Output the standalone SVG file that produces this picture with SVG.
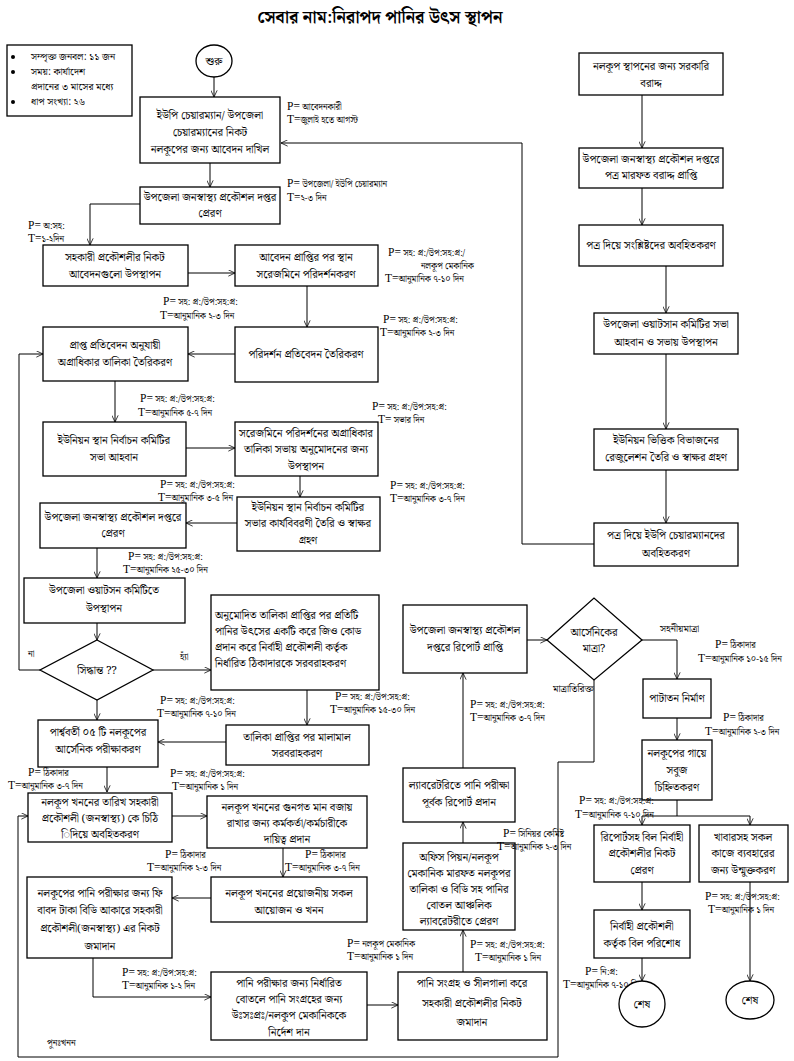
<svg xmlns="http://www.w3.org/2000/svg" width="794" height="1061" viewBox="0 0 794 1061">
<defs>
<marker id="ah" viewBox="0 0 10 10" refX="9.5" refY="5" markerWidth="7" markerHeight="7" orient="auto" markerUnits="userSpaceOnUse"><path d="M0,0.5 L9.5,5 L0,9.5" fill="none" stroke="#000" stroke-width="1.1"/></marker>
<style>
.bx{fill:#fff;stroke:#000;stroke-width:1.3}
.t{font-family:"Noto Serif Bengali","Noto Sans Bengali","Lohit Bengali",serif;font-size:11px;text-anchor:middle;fill:#000}
.ts{font-family:"Noto Serif Bengali","Noto Sans Bengali","Lohit Bengali",serif;font-size:11px;fill:#000}
.lb{font-family:"Noto Serif Bengali","Noto Sans Bengali","Lohit Bengali",serif;font-size:8.8px;fill:#000}
.pt{font-family:"Liberation Serif",serif;font-size:11.5px}
.ln{fill:none;stroke:#000;stroke-width:1}
.ar{fill:none;stroke:#000;stroke-width:1;marker-end:url(#ah)}
.ti{font-family:"Noto Serif Bengali","Noto Sans Bengali","Lohit Bengali",serif;font-size:17px;font-weight:bold;text-anchor:middle}
</style>
</defs>
<rect width="794" height="1061" fill="#fff"/>
<text class="ti" x="380" y="23">সেবার নাম:নিরাপদ পানির উৎস স্থাপন</text>

<g id="info">
<rect class="bx" x="7" y="45" width="125" height="71"/>
<circle cx="13" cy="57" r="2"/><circle cx="13" cy="72" r="2"/><circle cx="13" cy="102" r="2"/>
<text class="ts" x="31" y="60" style="font-size:10px">সম্পৃক্ত জনবল: ১১ জন</text>
<text class="ts" x="31" y="75" style="font-size:10px">সময়: কার্যাদেশ</text>
<text class="ts" x="31" y="90" style="font-size:10px">প্রদানের ৩ মাসের মধ্যে</text>
<text class="ts" x="31" y="105" style="font-size:10px">ধাপ সংখ্যা: ২৬</text>
</g>

<g id="connectors">
<path class="ar" d="M214,77 V97"/>
<path class="ar" d="M210,163 V187"/>
<path class="ar" d="M140,204 H90 V245"/>
<path class="ar" d="M188,273 H235"/>
<path class="ar" d="M307,286 V327"/>
<path class="ar" d="M235,354 H188"/>
<path class="ar" d="M115,381 V422"/>
<path class="ar" d="M186,448 H235"/>
<path class="ar" d="M300,476 V497"/>
<path class="ar" d="M237,523 H186"/>
<path class="ar" d="M97,548 V578"/>
<path class="ar" d="M97,623 V640"/>
<path class="ar" d="M40,670 H19 V354 H43"/>
<path class="ar" d="M153,670 H211"/>
<path class="ar" d="M307,690 V725"/>
<path class="ar" d="M226,742 H158"/>
<path class="ar" d="M97,700 V720"/>
<path class="ar" d="M107,767 V792"/>
<path class="ar" d="M172,816 H207"/>
<path class="ar" d="M283,848 V877"/>
<path class="ar" d="M211,898 H172"/>
<path class="ar" d="M93,958 V997 H211"/>
<path class="ar" d="M367,1005 H398"/>
<path class="ar" d="M463,972 V930"/>
<path class="ar" d="M463,843 V822"/>
<path class="ar" d="M463,768 V673"/>
<path class="ar" d="M527,640 H547"/>
<path class="ar" d="M642,640 H677 V679"/>
<path class="ar" d="M594,680 V762 H558 V1057 H18 V816 H28"/>
<path class="ar" d="M677,718 V740"/>
<path class="ln" d="M677,800 V816 M642,816 H750"/>
<path class="ar" d="M642,816 V825"/>
<path class="ar" d="M750,816 V825"/>
<path class="ar" d="M642,882 V910"/>
<path class="ar" d="M642,958 V981"/>
<path class="ar" d="M750,882 V981"/>
<path class="ar" d="M642,95 V148"/>
<path class="ar" d="M642,188 V225"/>
<path class="ar" d="M666,266 V313"/>
<path class="ar" d="M666,354 V429"/>
<path class="ar" d="M666,470 V523"/>
<path class="ar" d="M594,544 H522 V143 H281"/>
</g>

<g id="start"><ellipse class="bx" cx="214" cy="61" rx="18" ry="16"/><text class="t" x="214" y="65">শুরু</text></g>

<g id="n1"><rect class="bx" x="140" y="97" width="140" height="66"/>
<text class="t" x="210" y="119">ইউপি চেয়ারম্যান/ উপজেলা</text>
<text class="t" x="210" y="136">চেয়ারম্যানের নিকট</text>
<text class="t" x="210" y="153">নলকূপের জন্য আবেদন দাখিল</text>
<text class="lb" x="287" y="110"><tspan class="pt">P=</tspan> আবেদনকারী</text>
<text class="lb" x="287" y="123"><tspan class="pt">T=</tspan>জুলাই হতে আগস্ট</text></g>

<g id="n2"><rect class="bx" x="140" y="187" width="140" height="37"/>
<text class="t" x="210" y="201">উপজেলা জনস্বাস্থ্য প্রকৌশল দপ্তর</text>
<text class="t" x="210" y="217">প্রেরণ</text>
<text class="lb" x="287" y="187"><tspan class="pt">P=</tspan> উপজেলা/ ইউপি চেয়ারম্যান</text>
<text class="lb" x="287" y="201"><tspan class="pt">T=</tspan>২-৩ দিন</text></g>

<g id="n3"><rect class="bx" x="43" y="245" width="145" height="41"/>
<text class="t" x="115" y="261">সহকারী প্রকৌশলীর নিকট</text>
<text class="t" x="115" y="278">আবেদনগুলো উপস্থাপন</text>
<text class="lb" x="28" y="229"><tspan class="pt">P=</tspan> অ:সহ:</text>
<text class="lb" x="28" y="242"><tspan class="pt">T=</tspan>১-২দিন</text></g>

<g id="n4"><rect class="bx" x="235" y="245" width="143" height="41"/>
<text class="t" x="306" y="261">আবেদন প্রাপ্তির পর স্থান</text>
<text class="t" x="306" y="278">সরেজমিনে পরিদর্শনকরণ</text>
<text class="lb" x="388" y="256"><tspan class="pt">P=</tspan> সহ: প্র:/উপ:সহ:প্র:/</text>
<text class="lb" x="421" y="269">নলকূপ মেকানিক</text>
<text class="lb" x="385" y="282"><tspan class="pt">T=</tspan>আনুমানিক ৭-১০ দিন</text></g>

<g id="n5"><rect class="bx" x="235" y="327" width="143" height="55"/>
<text class="t" x="306" y="358">পরিদর্শন প্রতিবেদন তৈরিকরণ</text>
<text class="lb" x="383" y="323"><tspan class="pt">P=</tspan> সহ: প্র:/উপ:সহ:প্র:</text>
<text class="lb" x="380" y="336"><tspan class="pt">T=</tspan>আনুমানিক ২-৩ দিন</text></g>

<g id="n6"><rect class="bx" x="43" y="327" width="145" height="54"/>
<text class="t" x="115" y="349">প্রাপ্ত প্রতিবেদন অনুযায়ী</text>
<text class="t" x="115" y="366">অগ্রাধিকার তালিকা তৈরিকরণ</text>
<text class="lb" x="163" y="305"><tspan class="pt">P=</tspan> সহ: প্র:/উপ:সহ:প্র:</text>
<text class="lb" x="160" y="319"><tspan class="pt">T=</tspan>আনুমানিক ২-৩ দিন</text></g>

<g id="n7"><rect class="bx" x="43" y="422" width="143" height="54"/>
<text class="t" x="114" y="444">ইউনিয়ন স্থান নির্বাচন কমিটির</text>
<text class="t" x="114" y="461">সভা আহবান</text>
<text class="lb" x="140" y="402"><tspan class="pt">P=</tspan> সহ: প্র:/উপ:সহ:প্র:</text>
<text class="lb" x="138" y="416"><tspan class="pt">T=</tspan>আনুমানিক ৫-৭ দিন</text></g>

<g id="n8"><rect class="bx" x="235" y="422" width="143" height="54"/>
<text class="t" x="306" y="437">সরেজমিনে পরিদর্শনের অগ্রাধিকার</text>
<text class="t" x="306" y="453">তালিকা সভায় অনুমোদনের জন্য</text>
<text class="t" x="306" y="470">উপস্থাপন</text>
<text class="lb" x="372" y="410"><tspan class="pt">P=</tspan> সহ: প্র:/উপ:সহ:প্র:</text>
<text class="lb" x="378" y="423"><tspan class="pt">T=</tspan> সভার দিন</text></g>

<g id="n9"><rect class="bx" x="237" y="497" width="143" height="54"/>
<text class="t" x="308" y="511">ইউনিয়ন স্থান নির্বাচন কমিটির</text>
<text class="t" x="308" y="527">সভার কার্যবিবরণী তৈরি ও স্বাক্ষর</text>
<text class="t" x="308" y="544">গ্রহণ</text>
<text class="lb" x="390" y="489"><tspan class="pt">P=</tspan> সহ: প্র:/উপ:সহ:প্র:</text>
<text class="lb" x="390" y="502"><tspan class="pt">T=</tspan>আনুমানিক ৩-৭ দিন</text></g>

<g id="n10"><rect class="bx" x="40" y="503" width="146" height="45"/>
<text class="t" x="113" y="521">উপজেলা জনস্বাস্থ্য প্রকৌশল দপ্তরে</text>
<text class="t" x="113" y="537">প্রেরণ</text>
<text class="lb" x="160" y="488"><tspan class="pt">P=</tspan> সহ: প্র:/উপ:সহ:প্র:</text>
<text class="lb" x="158" y="501"><tspan class="pt">T=</tspan>আনুমানিক ৩-৫ দিন</text></g>

<g id="n11"><rect class="bx" x="24" y="578" width="161" height="45"/>
<text class="t" x="104" y="594">উপজেলা ওয়াটসন কমিটিতে</text>
<text class="t" x="104" y="612">উপস্থাপন</text>
<text class="lb" x="128" y="560"><tspan class="pt">P=</tspan> সহ: প্র:/উপ:সহ:প্র:</text>
<text class="lb" x="123" y="573"><tspan class="pt">T=</tspan>আনুমানিক ২৫-৩০ দিন</text></g>

<g id="d1"><polygon class="bx" points="97,640 153,670 97,700 40,670"/>
<text class="t" x="97" y="674">সিদ্ধান্ত ??</text>
<text class="ts" x="28" y="657" style="font-size:9px">না</text>
<text class="ts" x="180" y="660" style="font-size:9px">হ্যাঁ</text></g>

<g id="n12"><rect class="bx" x="211" y="595" width="168" height="95"/>
<text class="ts" x="215" y="619">অনুমোদিত তালিকা প্রাপ্তির পর প্রতিটি</text>
<text class="ts" x="215" y="635">পানির উৎসের একটি করে জিও কোড</text>
<text class="ts" x="215" y="651">প্রদান করে নির্বাহী প্রকৌশলী কর্তৃক</text>
<text class="ts" x="215" y="667">নির্ধারিত ঠিকাদারকে সরবরাহকরণ</text>
<text class="lb" x="335" y="700"><tspan class="pt">P=</tspan> সহ: প্র:/উপ:সহ:প্র:</text>
<text class="lb" x="330" y="713"><tspan class="pt">T=</tspan>আনুমানিক ১৫-৩০ দিন</text></g>

<g id="n14"><rect class="bx" x="226" y="725" width="143" height="40"/>
<text class="t" x="297" y="741">তালিকা প্রাপ্তির পর মালামাল</text>
<text class="t" x="297" y="757">সরবরাহকরণ</text></g>

<g id="n13"><rect class="bx" x="38" y="720" width="120" height="47"/>
<text class="t" x="98" y="736">পার্শ্ববর্তী ০৫ টি নলকূপের</text>
<text class="t" x="98" y="753">আর্সেনিক পরীক্ষাকরণ</text>
<text class="lb" x="160" y="704"><tspan class="pt">P=</tspan> সহ: প্র:/উপ:সহ:প্র:</text>
<text class="lb" x="157" y="717"><tspan class="pt">T=</tspan>আনুমানিক ৭-১০ দিন</text></g>

<g id="n15"><rect class="bx" x="28" y="793" width="144" height="49"/>
<text class="t" x="100" y="806">নলকূপ খননের তারিখ সহকারী</text>
<text class="t" x="100" y="822">প্রকৌশলী (জনস্বাস্থ্য) কে চিঠি</text>
<text class="t" x="100" y="838">িদিয়ে অবহিতকরণ</text>
<text class="lb" x="28" y="776"><tspan class="pt">P=</tspan> ঠিকাদার</text>
<text class="lb" x="8" y="789"><tspan class="pt">T=</tspan>আনুমানিক ৩-৭ দিন</text>
<text class="ts" x="47" y="1046" style="font-size:9px">পুনঃখনন</text></g>

<g id="n16"><rect class="bx" x="207" y="796" width="160" height="52"/>
<text class="t" x="287" y="811">নলকূপ খননের গুনগত মান বজায়</text>
<text class="t" x="287" y="827">রাখার জন্য কর্মকর্তা/কর্মচারীকে</text>
<text class="t" x="287" y="843">দায়িত্ব প্রদান</text>
<text class="lb" x="170" y="777"><tspan class="pt">P=</tspan> সহ: প্র:/উপ:সহ:প্র:</text>
<text class="lb" x="172" y="790"><tspan class="pt">T=</tspan>আনুমানিক ১ দিন</text></g>

<g id="n17"><rect class="bx" x="211" y="877" width="156" height="45"/>
<text class="t" x="289" y="897">নলকূপ খননের প্রয়োজনীয় সকল</text>
<text class="t" x="289" y="914">আয়োজন ও খনন</text>
<text class="lb" x="305" y="858"><tspan class="pt">P=</tspan> ঠিকাদার</text>
<text class="lb" x="285" y="871"><tspan class="pt">T=</tspan>আনুমানিক ৩-৭ দিন</text></g>

<g id="n18"><rect class="bx" x="27" y="877" width="145" height="81"/>
<text class="t" x="100" y="897">নলকূপের পানি পরীক্ষার জন্য ফি</text>
<text class="t" x="100" y="914">বাবদ টাকা বিডি আকারে সহকারী</text>
<text class="t" x="100" y="932">প্রকৌশলী(জনস্বাস্থ্য) এর নিকট</text>
<text class="t" x="100" y="950">জমাদান</text>
<text class="lb" x="165" y="858"><tspan class="pt">P=</tspan> ঠিকাদার</text>
<text class="lb" x="147" y="871"><tspan class="pt">T=</tspan>আনুমানিক ২-৩ দিন</text></g>

<g id="n19"><rect class="bx" x="211" y="972" width="156" height="68"/>
<text class="t" x="289" y="987">পানি পরীক্ষার জন্য নির্ধারিত</text>
<text class="t" x="289" y="1003">বোতলে পানি সংগ্রহের জন্য</text>
<text class="t" x="289" y="1019">উঃসঃপ্রঃ/নলকুপ মেকানিককে</text>
<text class="t" x="289" y="1036">নির্দেশ দান</text>
<text class="lb" x="122" y="976"><tspan class="pt">P=</tspan> সহ: প্র:/উপ:সহ:প্র:</text>
<text class="lb" x="122" y="989"><tspan class="pt">T=</tspan>আনুমানিক ১-২ দিন</text></g>

<g id="l3"><rect class="bx" x="398" y="972" width="149" height="68"/>
<text class="t" x="472" y="987">পানি সংগ্রহ ও সীলগালা করে</text>
<text class="t" x="472" y="1007">সহকারী প্রকৌশলীর নিকট</text>
<text class="t" x="472" y="1026">জমাদান</text>
<text class="lb" x="347" y="947"><tspan class="pt">P=</tspan> নলকূপ মেকানিক</text>
<text class="lb" x="347" y="960"><tspan class="pt">T=</tspan>আনুমানিক ১ দিন</text></g>

<g id="l2"><rect class="bx" x="403" y="843" width="112" height="87"/>
<text class="t" x="459" y="861">অফিস পিয়ন/নলকূপ</text>
<text class="t" x="459" y="877">মেকানিক মারফত নলকূপর</text>
<text class="t" x="459" y="893">তালিকা ও বিডি সহ পানির</text>
<text class="t" x="459" y="909">বোতল আঞ্চলিক</text>
<text class="t" x="459" y="925">ল্যাবরেটরীতে প্রেরণ</text>
<text class="lb" x="470" y="948"><tspan class="pt">P=</tspan> সহ: প্র:/উপ:সহ:প্র:</text>
<text class="lb" x="475" y="961"><tspan class="pt">T=</tspan>আনুমানিক ১ দিন</text></g>

<g id="l1"><rect class="bx" x="403" y="768" width="112" height="54"/>
<text class="t" x="459" y="789">ল্যাবরেটরিতে পানি পরীক্ষা</text>
<text class="t" x="459" y="806">পূর্বক রিপোর্ট প্রদান</text>
<text class="lb" x="503" y="837"><tspan class="pt">P=</tspan> সিনিয়র কেমিষ্ট</text>
<text class="lb" x="497" y="850"><tspan class="pt">T=</tspan>আনুমানিক ২-৩ দিন</text>
<text class="lb" x="470" y="708"><tspan class="pt">P=</tspan> সহ: প্র:/উপ:সহ:প্র:</text>
<text class="lb" x="470" y="721"><tspan class="pt">T=</tspan>আনুমানিক ৩-৭ দিন</text></g>

<g id="m1"><rect class="bx" x="403" y="605" width="124" height="68"/>
<text class="t" x="465" y="634">উপজেলা জনস্বাস্থ্য প্রকৌশল</text>
<text class="t" x="465" y="651">দপ্তরে রিপোর্ট প্রাপ্তি</text></g>

<g id="d2"><polygon class="bx" points="547,640 594,598 642,640 594,680"/>
<text class="t" x="594" y="636">আর্সেনিকের</text>
<text class="t" x="594" y="652">মাত্রা?</text>
<text class="ts" x="660" y="632" style="font-size:10px">সহনীয়মাত্রা</text>
<text class="ts" x="553" y="692" style="font-size:10px">মাত্রাতিরিক্ত</text></g>

<g id="pa"><rect class="bx" x="643" y="679" width="68" height="39"/>
<text class="t" x="677" y="702">পাটাতন নির্মাণ</text>
<text class="lb" x="715" y="648"><tspan class="pt">P=</tspan> ঠিকাদার</text>
<text class="lb" x="698" y="662"><tspan class="pt">T=</tspan>আনুমানিক ১০-১৫ দিন</text></g>

<g id="gr"><rect class="bx" x="642" y="740" width="70" height="60"/>
<text class="t" x="677" y="757">নলকূপের গায়ে</text>
<text class="t" x="677" y="774">সবুজ</text>
<text class="t" x="677" y="791">চিহ্নিতকরণ</text>
<text class="lb" x="723" y="721"><tspan class="pt">P=</tspan> ঠিকাদার</text>
<text class="lb" x="705" y="735"><tspan class="pt">T=</tspan>আনুমানিক ২-৩ দিন</text>
<text class="lb" x="579" y="804"><tspan class="pt">P=</tspan> সহ: প্র:/উপ:সহ:প্র:</text>
<text class="lb" x="575" y="818"><tspan class="pt">T=</tspan>আনুমানিক ৭-১০ দিন</text></g>

<g id="b1"><rect class="bx" x="594" y="825" width="96" height="57"/>
<text class="t" x="642" y="841">রিপোর্টসহ বিল নির্বাহী</text>
<text class="t" x="642" y="857">প্রকৌশলীর নিকট</text>
<text class="t" x="642" y="874">প্রেরণ</text></g>

<g id="b2"><rect class="bx" x="699" y="825" width="89" height="57"/>
<text class="t" x="743" y="841">খাবারসহ সকল</text>
<text class="t" x="743" y="857">কাজে ব্যবহারের</text>
<text class="t" x="743" y="874">জন্য উন্মুক্তকরণ</text>
<text class="lb" x="705" y="900"><tspan class="pt">P=</tspan> সহ: প্র:/উপ:সহ:প্র:</text>
<text class="lb" x="708" y="913"><tspan class="pt">T=</tspan>আনুমানিক ১ দিন</text></g>

<g id="c1"><rect class="bx" x="594" y="910" width="96" height="48"/>
<text class="t" x="642" y="930">নির্বাহী প্রকৌশলী</text>
<text class="t" x="642" y="947">কর্তৃক বিল পরিশোধ</text>
<text class="lb" x="585" y="975"><tspan class="pt">P=</tspan> নি:প্র:</text>
<text class="lb" x="563" y="988"><tspan class="pt">T=</tspan>আনুমানিক ৭-১০ দিন</text></g>

<g id="end1"><ellipse class="bx" cx="642" cy="1004" rx="23" ry="23"/><text class="t" x="642" y="1008">শেষ</text></g>
<g id="end2"><ellipse class="bx" cx="750" cy="1000" rx="24" ry="19"/><text class="t" x="750" y="1004">শেষ</text></g>

<g id="r1"><rect class="bx" x="579" y="53" width="144" height="42"/>
<text class="t" x="651" y="70">নলকূপ স্থাপনের জন্য সরকারি</text>
<text class="t" x="651" y="87">বরাদ্দ</text></g>
<g id="r2"><rect class="bx" x="579" y="148" width="144" height="40"/>
<text class="t" x="651" y="163">উপজেলা জনস্বাস্থ্য প্রকৌশল দপ্তরে</text>
<text class="t" x="651" y="179">পত্র মারফত বরাদ্দ প্রাপ্তি</text></g>
<g id="r3"><rect class="bx" x="579" y="225" width="144" height="41"/>
<text class="t" x="651" y="249">পত্র দিয়ে সংশ্লিষ্টদের অবহিতকরণ</text></g>
<g id="r4"><rect class="bx" x="594" y="313" width="144" height="41"/>
<text class="t" x="666" y="328">উপজেলা ওয়াটসান কমিটির সভা</text>
<text class="t" x="666" y="346">আহবান ও সভায় উপস্থাপন</text></g>
<g id="r5"><rect class="bx" x="594" y="429" width="144" height="41"/>
<text class="t" x="666" y="444">ইউনিয়ন ভিত্তিক বিভাজনের</text>
<text class="t" x="666" y="461">রেজুলেশন তৈরি ও স্বাক্ষর গ্রহণ</text></g>
<g id="r6"><rect class="bx" x="594" y="523" width="144" height="43"/>
<text class="t" x="666" y="539">পত্র দিয়ে ইউপি চেয়ারম্যানদের</text>
<text class="t" x="666" y="557">অবহিতকরণ</text></g>
</svg>
